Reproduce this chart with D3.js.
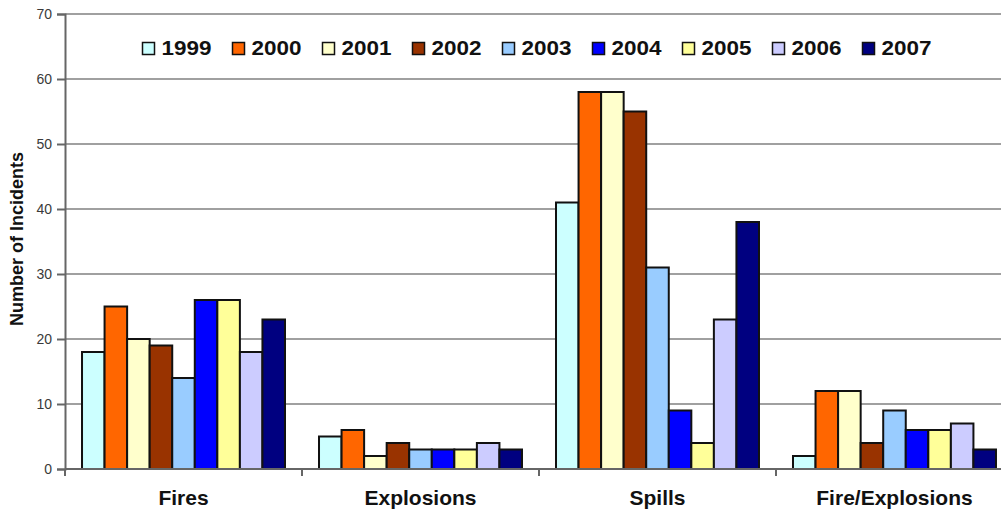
<!DOCTYPE html>
<html>
<head>
<meta charset="utf-8">
<script src="https://cdn.jsdelivr.net/npm/d3@7"></script>
<style>
  html, body { margin: 0; padding: 0; background: #fff; }
  svg { display: block; font-family: "Liberation Sans", Arial, sans-serif; }
</style>
</head>
<body>
<svg id="chart" width="1001" height="510"></svg>
<script>
// Incident categories and yearly counts
const categories = ["Fires", "Explosions", "Spills", "Fire/Explosions"];
const years = ["1999", "2000", "2001", "2002", "2003", "2004", "2005", "2006", "2007"];
const fires          = [18, 25, 20, 19, 14, 26, 26, 18, 23];
const explosions     = [5, 6, 2, 4, 3, 3, 3, 4, 3];
const spills         = [41, 58, 58, 55, 31, 9, 4, 23, 38];
const fireExplosions = [2, 12, 12, 4, 9, 6, 6, 7, 3];
const yTicks = [0, 10, 20, 30, 40, 50, 60, 70];
const yearColors = ["#CCFFFF", "#FF6600", "#FFFFCC", "#993300", "#99CCFF", "#0000FF", "#FFFF99", "#CCCCFF", "#000080"];

const seriesByCategory = [fires, explosions, spills, fireExplosions];
const rows = categories.map((c, i) => ({
  category: c,
  values: years.map((y, j) => ({ year: y, value: seriesByCategory[i][j] }))
}));

const svg = d3.select("#chart");
const plotLeft = 65, plotRight = 1013, plotTop = 14, plotBottom = 469;

const x0 = d3.scaleBand().domain(categories).range([plotLeft, plotRight])
  .paddingInner(0.1435).paddingOuter(0.0718);
const x1 = d3.scaleBand().domain(years).range([0, x0.bandwidth()]).padding(0);
const y = d3.scaleLinear().domain([0, 70]).range([plotBottom, plotTop]);
const color = d3.scaleOrdinal().domain(years).range(yearColors);

// Horizontal gridlines
svg.append("g")
  .selectAll("line")
  .data(yTicks.filter(t => t > 0))
  .join("line")
  .attr("x1", plotLeft).attr("x2", 1001)
  .attr("y1", d => y(d)).attr("y2", d => y(d))
  .attr("stroke", "#a0a0a0").attr("stroke-width", 2);

// Y axis
const yAxis = svg.append("g")
  .attr("transform", `translate(${plotLeft},0)`)
  .call(d3.axisLeft(y).tickValues(yTicks).tickSize(8).tickPadding(5).tickFormat(d3.format("d")));
yAxis.select(".domain").attr("stroke", "#666").attr("stroke-width", 2);
yAxis.selectAll(".tick line").attr("stroke", "#666").attr("stroke-width", 2);
yAxis.selectAll(".tick text")
  .attr("font-size", 14).attr("fill", "#3a3a3a")
  .attr("font-family", "'Liberation Sans', Arial, sans-serif");

// Grouped bars
const groups = svg.append("g")
  .selectAll("g")
  .data(rows)
  .join("g")
  .attr("transform", d => `translate(${x0(d.category)},0)`);

groups.selectAll("rect")
  .data(d => d.values)
  .join("rect")
  .attr("x", d => x1(d.year))
  .attr("width", x1.bandwidth())
  .attr("y", d => y(d.value))
  .attr("height", d => y(0) - y(d.value))
  .attr("fill", d => color(d.year))
  .attr("stroke", "#111")
  .attr("stroke-width", 2);

// X axis baseline with ticks between categories
svg.append("line")
  .attr("x1", plotLeft).attr("x2", 1001)
  .attr("y1", plotBottom).attr("y2", plotBottom)
  .attr("stroke", "#666").attr("stroke-width", 2);
const boundaries = categories.map(c => x0(c) - x0.step() * x0.paddingInner() / 2);
svg.append("g")
  .selectAll("line")
  .data(boundaries)
  .join("line")
  .attr("x1", d => d).attr("x2", d => d)
  .attr("y1", plotBottom).attr("y2", plotBottom + 7)
  .attr("stroke", "#666").attr("stroke-width", 2);

// Category labels
svg.append("g")
  .selectAll("text")
  .data(categories)
  .join("text")
  .attr("x", d => x0(d) + x0.bandwidth() / 2)
  .attr("y", 505)
  .attr("text-anchor", "middle")
  .attr("font-size", 21)
  .attr("font-weight", "bold")
  .attr("fill", "#111")
  .text(d => d);

// Y axis title
svg.append("text")
  .attr("transform", "translate(23,239) rotate(-90)")
  .attr("text-anchor", "middle")
  .attr("font-size", 18)
  .attr("font-weight", "bold")
  .attr("fill", "#111")
  .text("Number of Incidents");

// Legend
const legend = svg.append("g")
  .selectAll("g")
  .data(years)
  .join("g")
  .attr("transform", (d, i) => `translate(${142.5 + i * 90},42.5)`);
legend.append("rect")
  .attr("width", 12).attr("height", 12)
  .attr("fill", d => color(d))
  .attr("stroke", "#111").attr("stroke-width", 1.5);
legend.append("text")
  .attr("x", 19).attr("y", 12.5)
  .attr("font-size", 20)
  .attr("font-weight", "bold")
  .attr("fill", "#111")
  .attr("textLength", 50)
  .attr("lengthAdjust", "spacingAndGlyphs")
  .text(d => d);
</script>
</body>
</html>
